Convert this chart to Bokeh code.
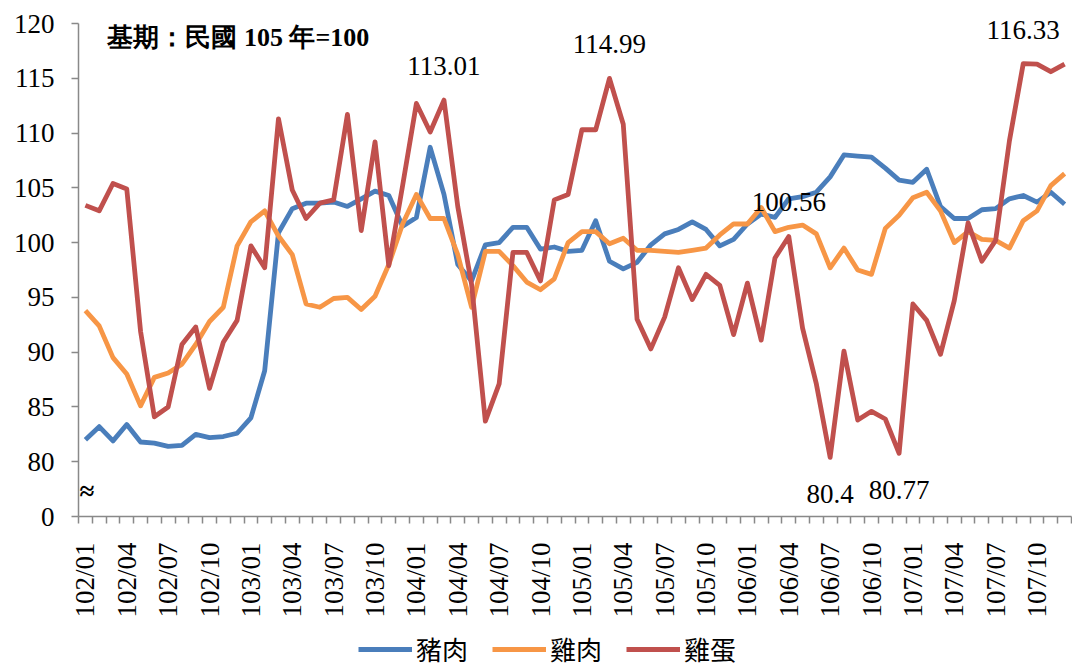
import math
from bokeh.plotting import figure
from bokeh.layouts import column
from bokeh.models import (FixedTicker, Legend, LegendItem, Label, LabelSet,
                          ColumnDataSource, Range1d)
from bokeh.embed import file_html
from bokeh.resources import INLINE
from bokeh.core.properties import value

# ---------------- data ----------------
years = [102, 103, 104, 105, 106, 107]
months = [f"{y}/{m:02d}" for y in years for m in range(1, 13)]

pork = [82.0, 83.2, 81.9, 83.4, 81.8, 81.7, 81.4, 81.5, 82.5, 82.2, 82.3, 82.6,
        84.0, 88.3, 100.9, 103.1, 103.6, 103.6, 103.7, 103.3, 104.0, 104.7, 104.3, 101.5,
        102.3, 108.7, 104.4, 98.0, 96.5, 99.8, 100.0, 101.4, 101.4, 99.4, 99.6, 99.2,
        99.3, 102.0, 98.3, 97.6, 98.2, 99.8, 100.8, 101.2, 101.9, 101.2, 99.7, 100.3,
        101.7, 102.6, 102.3, 104.0, 104.2, 104.6, 106.0, 108.0, 107.9, 107.8, 106.8, 105.7,
        105.5, 106.7, 103.3, 102.2, 102.2, 103.0, 103.1, 104.0, 104.3, 103.7, 104.6, 103.5]

chicken = [93.8, 92.4, 89.5, 88.0, 85.1, 87.7, 88.1, 88.9, 90.7, 92.8, 94.1, 99.7,
           101.9, 102.9, 100.6, 98.9, 94.4, 94.1, 94.9, 95.0, 93.9, 95.1, 98.0, 101.7,
           104.4, 102.2, 102.2, 98.9, 94.1, 99.2, 99.2, 97.9, 96.4, 95.7, 96.7, 100.0,
           101.0, 101.0, 99.9, 100.4, 99.3, 99.3, 99.2, 99.1, 99.3, 99.5, 100.7, 101.7,
           101.7, 103.2, 101.0, 101.4, 101.6, 100.8, 97.7, 99.5, 97.5, 97.1, 101.3, 102.5,
           104.1, 104.6, 102.9, 100.0, 101.0, 100.3, 100.2, 99.5, 102.0, 102.9, 105.2, 106.3]

egg = [103.4, 102.9, 105.4, 104.9, 91.9, 84.1, 85.0, 90.7, 92.3, 86.7, 90.9, 92.9,
       99.7, 97.7, 111.3, 104.8, 102.2, 103.6, 103.9, 111.7, 101.1, 109.2, 97.9, 105.2,
       112.7, 110.1, 113.01, 103.3, 96.2, 83.7, 87.1, 99.1, 99.1, 96.5, 103.9, 104.4,
       110.3, 110.3, 114.99, 110.8, 93.0, 90.3, 93.2, 97.7, 94.8, 97.1, 96.1, 91.6,
       96.3, 91.1, 98.6, 100.56, 92.2, 87.1, 80.4, 90.1, 83.8, 84.6, 83.9, 80.77,
       94.4, 92.9, 89.8, 94.7, 101.8, 98.3, 100.2, 109.3, 116.33, 116.3, 115.6, 116.3]

series_names = ["豬肉", "雞肉", "雞蛋"]
series_colors = ["#4A7EBB", "#F79646", "#C0504D"]

y_ticks = [75, 80, 85, 90, 95, 100, 105, 110, 115, 120]
y_tick_labels = ["0", "80", "85", "90", "95", "100", "105", "110", "115", "120"]

peak_idx = [26, 38, 51, 68]     # egg labels above the line
trough_idx = [54, 59]           # egg labels below the line

title_text = "基期：民國 105 年=100"

SERIF = "Liberation Serif"
CJK = "Noto Sans CJK TC"

# ---------------- main figure ----------------
n = len(months)
x = list(range(n))
all_series = [pork, chicken, egg]

p = figure(width=1072, height=625, output_backend="svg", toolbar_location=None,
           x_range=Range1d(-0.5, n - 0.5), y_range=Range1d(y_ticks[0], 122.1),
           min_border_left=78, min_border_right=1, min_border_top=0,
           min_border_bottom=109)

p.xgrid.visible = False
p.ygrid.visible = False
p.outline_line_color = None
p.background_fill_color = "white"
p.border_fill_color = "white"

for vals, c in zip(all_series, series_colors):
    p.line(x, vals, line_color=c, line_width=4.8, line_join="round")

# x axis
xa = p.xaxis[0]
xa.ticker = FixedTicker(ticks=x[::3], minor_ticks=[i - 0.5 for i in range(n + 1)])
xa.major_label_overrides = {i: months[i] for i in x[::3]}
xa.major_label_orientation = math.pi / 2
xa.major_tick_line_color = None
xa.major_tick_out = 0
xa.major_tick_in = 0
xa.minor_tick_line_color = "#898989"
xa.minor_tick_line_width = 1.5
xa.minor_tick_out = 7
xa.minor_tick_in = 0
xa.axis_line_color = "#898989"
xa.axis_line_width = 1.5
xa.major_label_standoff = 19
xa.major_label_text_font = SERIF
xa.major_label_text_font_size = "27px"
xa.major_label_text_color = "black"

# y axis
ya = p.yaxis[0]
ya.ticker = FixedTicker(ticks=y_ticks)
ya.bounds = (y_ticks[0], y_ticks[-1])
ya.major_label_overrides = dict(zip(y_ticks, y_tick_labels))
ya.major_tick_out = 7
ya.major_tick_in = 0
ya.major_tick_line_color = "#898989"
ya.major_tick_line_width = 1.5
ya.minor_tick_line_color = None
ya.axis_line_color = "#898989"
ya.axis_line_width = 1.5
ya.major_label_standoff = 17
ya.major_label_text_font = SERIF
ya.major_label_text_font_size = "27px"
ya.major_label_text_color = "black"

# axis break mark
p.add_layout(Label(x=-0.5, y=77.3, x_offset=1, text="≈", text_align="left",
                   text_baseline="middle", text_font=SERIF,
                   text_font_size="27px", text_font_style="bold",
                   text_color="black"))

# title note
p.add_layout(Label(x=1.6, y=118.7, text=title_text, text_align="left",
                   text_baseline="middle", text_font=SERIF,
                   text_font_size="26px", text_font_style="bold",
                   text_color="black"))

# data labels on egg series
src_hi = ColumnDataSource(dict(x=peak_idx, y=[egg[i] for i in peak_idx],
                               t=[str(egg[i]) for i in peak_idx]))
src_lo = ColumnDataSource(dict(x=trough_idx, y=[egg[i] for i in trough_idx],
                               t=[str(egg[i]) for i in trough_idx]))
p.add_layout(LabelSet(x="x", y="y", text="t", source=src_hi, y_offset=34,
                      text_align="center", text_baseline="middle",
                      text_font=value(SERIF), text_font_size="27px",
                      text_color="black"))
p.add_layout(LabelSet(x="x", y="y", text="t", source=src_lo, y_offset=-37,
                      text_align="center", text_baseline="middle",
                      text_font=value(SERIF), text_font_size="27px",
                      text_color="black"))

# ---------------- legend strip ----------------
lg = figure(width=1072, height=42, output_backend="svg", toolbar_location=None,
            x_range=Range1d(1000, 1001), y_range=Range1d(0, 1),
            x_axis_location=None, y_axis_location=None, min_border=0)
lg.xgrid.visible = False
lg.ygrid.visible = False
lg.outline_line_color = None
lg.background_fill_color = "white"
lg.border_fill_color = "white"

items = []
for nm, vals, c in zip(series_names, all_series, series_colors):
    r = lg.line(x, vals, line_color=c, line_width=4.8)
    items.append(LegendItem(label=nm, renderers=[r]))

legend = Legend(items=items, orientation="horizontal", location=(280, 0),
                glyph_width=54, glyph_height=24, label_standoff=4, spacing=24,
                padding=0, margin=0, border_line_color=None,
                background_fill_alpha=0,
                label_text_font=CJK, label_text_font_size="26px",
                label_text_color="black")
lg.add_layout(legend)

layout = column(p, lg, spacing=0)
open("out.html", "w").write(file_html(layout, INLINE))
